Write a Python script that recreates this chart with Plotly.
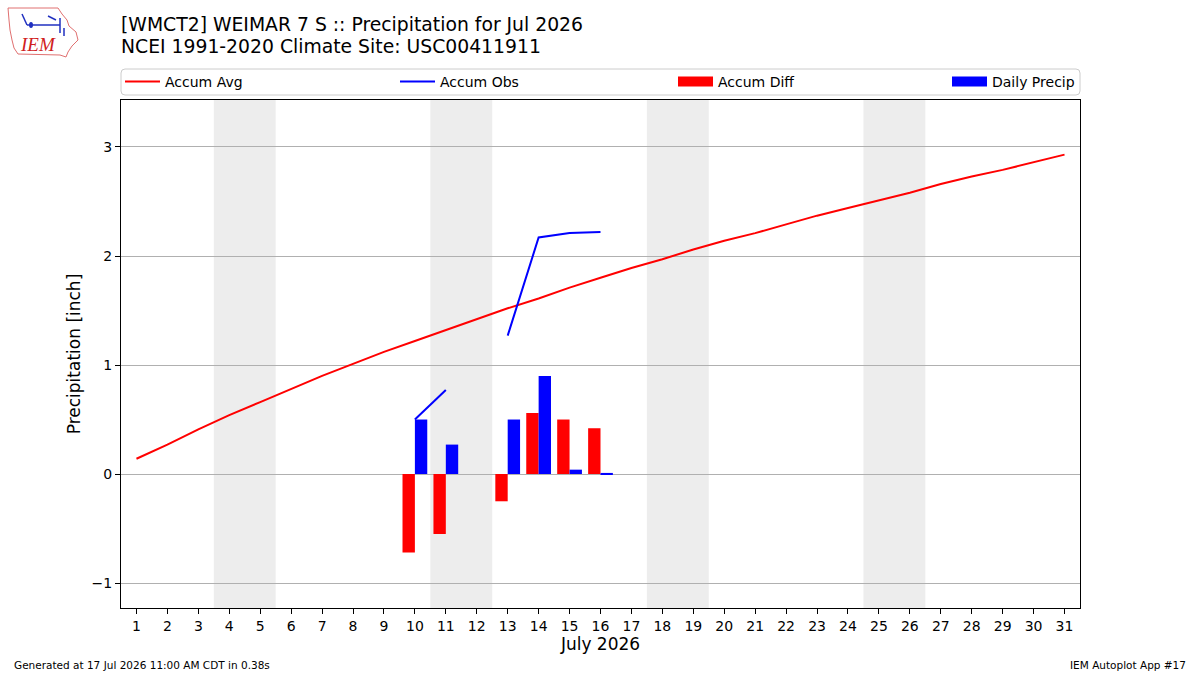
import plotly.graph_objects as go

# ---------------- data ----------------
days = list(range(1, 32))
accum_avg = [0.14, 0.27, 0.41, 0.54, 0.66, 0.78, 0.90, 1.01, 1.12, 1.22,
             1.32, 1.42, 1.52, 1.61, 1.71, 1.80, 1.89, 1.97, 2.06, 2.14,
             2.21, 2.29, 2.37, 2.44, 2.51, 2.58, 2.66, 2.73, 2.79, 2.86, 2.93]
obs_days = list(range(1, 17))
accum_obs = [None, None, None, None, None, None, None, None, None, 0.50,
             0.77, None, 1.27, 2.17, 2.21, 2.22]
daily_precip = [None, None, None, None, None, None, None, None, None, 0.50,
                0.27, None, 0.50, 0.90, 0.04, 0.01]
accum_diff = [None, None, None, None, None, None, None, None, None, -0.72,
              -0.55, None, -0.25, 0.56, 0.50, 0.42]
weekend_starts = [4, 11, 18, 25]
ytick_vals = [-1, 0, 1, 2, 3]

FONT = "DejaVu Sans"
W, H = 1200, 675
L, R, T, B = 121, 1080, 100, 608


def px(x):
    return (x - L) / (R - L)


def py(y):
    return (B - y) / (B - T)


fig = go.Figure()

fig.add_trace(go.Bar(x=obs_days, y=accum_diff, width=0.4, offset=-0.4,
                     marker=dict(color="#ff0000", line=dict(width=0)),
                     name="Accum Diff", showlegend=False))
fig.add_trace(go.Bar(x=obs_days, y=daily_precip, width=0.4, offset=0.0,
                     marker=dict(color="#0000ff", line=dict(width=0)),
                     name="Daily Precip", showlegend=False))
fig.add_trace(go.Scatter(x=days, y=accum_avg, mode="lines",
                         line=dict(color="#ff0000", width=2),
                         name="Accum Avg", legend="legend"))
fig.add_trace(go.Scatter(x=obs_days, y=accum_obs, mode="lines",
                         line=dict(color="#0000ff", width=2),
                         name="Accum Obs", legend="legend2", connectgaps=False))
# legend-only entries for bars
fig.add_trace(go.Scatter(x=[None], y=[None], mode="lines",
                         line=dict(color="#ff0000", width=10),
                         name="Accum Diff", legend="legend3"))
fig.add_trace(go.Scatter(x=[None], y=[None], mode="lines",
                         line=dict(color="#0000ff", width=10),
                         name="Daily Precip", legend="legend4"))

shapes = []
for d in weekend_starts:
    shapes.append(dict(type="rect", xref="x", yref="paper", x0=d - 0.5, x1=d + 1.5,
                       y0=0, y1=1, fillcolor="#ededed", line=dict(width=0), layer="below"))

# legend frame (rounded)
x0, x1, y0, y1 = px(121), px(1080), py(95), py(69)
rx, ry = 4 / (R - L), 4 / (B - T)
path = (f"M{x0+rx},{y0} L{x1-rx},{y0} Q{x1},{y0} {x1},{y0+ry} L{x1},{y1-ry} "
        f"Q{x1},{y1} {x1-rx},{y1} L{x0+rx},{y1} Q{x0},{y1} {x0},{y1-ry} "
        f"L{x0},{y0+ry} Q{x0},{y0} {x0+rx},{y0} Z")
shapes.append(dict(type="path", xref="paper", yref="paper", path=path,
                   line=dict(color="#cccccc", width=1), fillcolor="rgba(255,255,255,0.8)"))

# logo outline (decoration)
outline = [(8, 8), (58, 8), (62, 14), (67, 20), (69, 26), (76, 32), (78, 40), (72, 46),
           (68, 52), (66, 57), (60, 55), (18, 54), (14, 48), (12, 40), (10, 30), (9, 20)]
p = "M" + " L".join(f"{px(a)},{py(b)}" for a, b in outline) + " Z"
shapes.append(dict(type="path", xref="paper", yref="paper", path=p,
                   line=dict(color="#e07070", width=1)))
for (a, b, c, d) in [(27, 25, 60, 25), (60, 18, 60, 33), (22, 14, 27, 25), (48, 16, 56, 20),
                     (64, 28, 64, 36)]:
    shapes.append(dict(type="line", xref="paper", yref="paper", x0=px(a), y0=py(b),
                       x1=px(c), y1=py(d), line=dict(color="#2030c0", width=1.5)))
shapes.append(dict(type="circle", xref="paper", yref="paper", x0=px(29), y0=py(22),
                   x1=px(33), y1=py(28), fillcolor="#2030c0", line=dict(width=0)))

annotations = [
    dict(text="[WMCT2] WEIMAR 7 S :: Precipitation for Jul 2026", x=px(119), y=py(24),
         xref="paper", yref="paper", xanchor="left", yanchor="middle", showarrow=False,
         font=dict(family=FONT, size=18.8, color="black")),
    dict(text="NCEI 1991-2020 Climate Site: USC00411911", x=px(119), y=py(47),
         xref="paper", yref="paper", xanchor="left", yanchor="middle", showarrow=False,
         font=dict(family=FONT, size=18.8, color="black")),
    dict(text="Generated at 17 Jul 2026 11:00 AM CDT in 0.38s", x=px(12), y=py(665),
         xref="paper", yref="paper", xanchor="left", yanchor="middle", showarrow=False,
         font=dict(family=FONT, size=10.5, color="black")),
    dict(text="IEM Autoplot App #17", x=px(1188), y=py(665),
         xref="paper", yref="paper", xanchor="right", yanchor="middle", showarrow=False,
         font=dict(family=FONT, size=10.5, color="black")),
    dict(text="<i>IEM</i>", x=px(38), y=py(45), xref="paper", yref="paper",
         xanchor="center", yanchor="middle", showarrow=False,
         font=dict(family="Liberation Serif", size=19, color="#d02020")),
]


def leg(xpix):
    return dict(x=px(xpix), xanchor="left", y=py(82), yanchor="middle",
                orientation="h", bgcolor="rgba(0,0,0,0)", borderwidth=0,
                itemwidth=35, font=dict(family=FONT, size=14, color="black"))


fig.update_layout(
    width=W, height=H,
    margin=dict(l=L, r=W - R, t=T, b=H - B, pad=0),
    plot_bgcolor="white", paper_bgcolor="white",
    barmode="overlay",
    font=dict(family=FONT, size=14, color="black"),
    shapes=shapes, annotations=annotations,
    legend=leg(120), legend2=leg(395), legend3=leg(673), legend4=leg(947),
    xaxis=dict(range=[0.5, 31.5], tickmode="array", tickvals=days,
               ticktext=[str(d) for d in days], ticks="outside", ticklen=5,
               tickcolor="black", showgrid=False, zeroline=False,
               showline=True, mirror=True, linecolor="black", linewidth=1,
               title=dict(text="July 2026", font=dict(size=17), standoff=5),
               tickfont=dict(size=14)),
    yaxis=dict(range=[-1.229, 3.431], tickmode="array", tickvals=ytick_vals,
               ticks="outside", ticklen=5, tickcolor="black",
               showgrid=True, gridcolor="#b0b0b0", gridwidth=1, zeroline=False,
               showline=True, mirror=True, linecolor="black", linewidth=1,
               title=dict(text="Precipitation [inch]", font=dict(size=17), standoff=6),
               tickfont=dict(size=14)),
)

fig.write_html("out.html")
